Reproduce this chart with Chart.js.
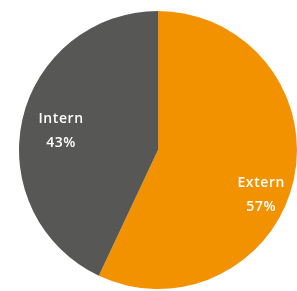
<!DOCTYPE html>
<html>
<head>
<meta charset="utf-8">
<script src="https://cdn.jsdelivr.net/npm/chart.js@4"></script>
<style>
  html, body { margin: 0; padding: 0; background: #ffffff; overflow: hidden; }
  #wrap { width: 297px; height: 291px; position: relative; }
</style>
</head>
<body>
<div id="wrap"><canvas id="c"></canvas></div>
<script>
const categories = ["Extern", "Intern"];
const values = [57, 43];
const percentLabels = ["57%", "43%"];
const colors = ["#F39200", "#575756"];

const sliceLabels = {
  id: 'sliceLabels',
  afterDatasetsDraw(chart, args, opts) {
    const ctx = chart.ctx;
    const meta = chart.getDatasetMeta(0);
    ctx.save();
    ctx.fillStyle = '#ffffff';
    ctx.font = '600 14px "Open Sans", sans-serif';
    if ('letterSpacing' in ctx) ctx.letterSpacing = '0.6px';
    ctx.textAlign = 'center';
    ctx.textBaseline = 'middle';
    meta.data.forEach((arc, i) => {
      const p = arc.getProps(['x', 'y', 'startAngle', 'endAngle', 'outerRadius']);
      const ang = (p.startAngle + p.endAngle) / 2 + opts.angleShift[i];
      const r = p.outerRadius * opts.radius[i];
      const x = p.x + Math.cos(ang) * r;
      const y = p.y + Math.sin(ang) * r;
      ctx.fillText(categories[i], x, y - 12);
      ctx.fillText(percentLabels[i], x, y + 12);
    });
    ctx.restore();
  }
};

new Chart(document.getElementById('c'), {
  type: 'pie',
  data: {
    labels: categories,
    datasets: [{
      data: values,
      backgroundColor: colors,
      borderWidth: 0
    }]
  },
  options: {
    responsive: true,
    maintainAspectRatio: false,
    animation: false,
    layout: { padding: { left: 19, right: 0, top: 11, bottom: 2 } },
    plugins: {
      legend: { display: false },
      tooltip: { enabled: false },
      sliceLabels: { radius: [0.81, 0.71], angleShift: [0.19, -0.03] }
    }
  },
  plugins: [sliceLabels]
});
</script>
</body>
</html>
